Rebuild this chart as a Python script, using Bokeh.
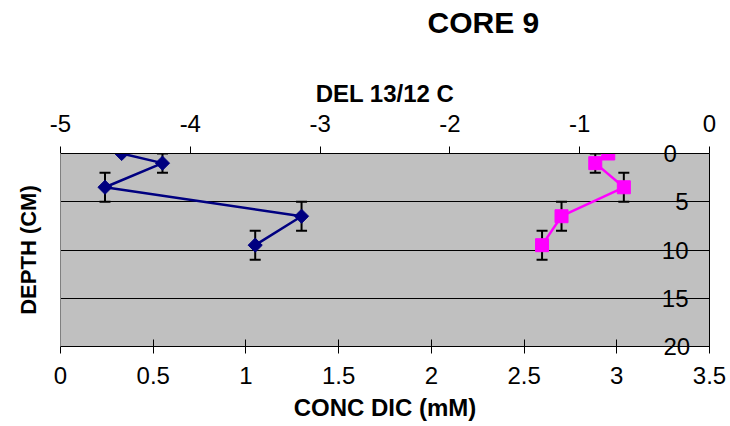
import numpy as np
from bokeh.plotting import figure
from bokeh.models import (Range1d, LinearAxis, FixedTicker, Grid, Whisker,
                          ColumnDataSource, TeeHead, Title)
from bokeh.embed import file_html
from bokeh.resources import INLINE

# ---- data ----
depth_cm = [0, 1, 3.5, 6.5, 9.5]
depth_err = [0, 1, 1.5, 1.5, 1.5]
conc_dic_mM = [0.33, 0.55, 0.24, 1.30, 1.05]
del_13_12_c = [-0.78, -0.88, -0.66, -1.14, -1.29]

conc_ticks = [0, 0.5, 1, 1.5, 2, 2.5, 3, 3.5]
conc_tick_labels = ["0", "0.5", "1", "1.5", "2", "2.5", "3", "3.5"]
del_ticks = [-5, -4, -3, -2, -1, 0]
del_tick_labels = ["-5", "-4", "-3", "-2", "-1", "0"]
depth_ticks = [0, 5, 10, 15, 20]
depth_tick_labels = ["0", "5", "10", "15", "20"]
depth_grid = [5, 10, 15]

FONT = "Liberation Sans"
NAVY = "#000080"
MAGENTA = "#FF00FF"

p = figure(frame_width=649, frame_height=193,
           x_range=Range1d(0, 3.5), y_range=Range1d(20, 0),
           x_axis_location=None, y_axis_location=None,
           output_backend="svg", toolbar_location=None,
           min_border_left=60, min_border_right=21,
           min_border_top=153, min_border_bottom=72,
           background_fill_color="#C0C0C0", border_fill_color="white",
           outline_line_color=None)
p.extra_x_ranges = {"del": Range1d(-5, 0)}
for g in p.grid:
    g.visible = False


def style(ax):
    ax.major_label_text_font = FONT
    ax.major_label_text_font_size = "24px"
    ax.major_label_text_color = "black"
    ax.axis_label_text_font = FONT
    ax.axis_label_text_font_size = "24px"
    ax.axis_label_text_font_style = "bold"
    ax.axis_label_text_color = "black"
    ax.minor_tick_line_color = None
    ax.axis_line_color = "black"
    ax.major_tick_line_color = "black"
    ax.major_tick_line_width = 1


# bottom axis: CONC DIC
xb = LinearAxis(ticker=FixedTicker(ticks=conc_ticks),
                major_label_overrides=dict(zip(conc_ticks, conc_tick_labels)),
                axis_label="CONC DIC (mM)")
style(xb)
xb.major_tick_in = 7
xb.major_tick_out = 7
xb.major_label_standoff = 13
xb.axis_label_standoff = 7
p.add_layout(xb, "below")

# top axis: DEL 13/12 C
xt = LinearAxis(x_range_name="del", ticker=FixedTicker(ticks=del_ticks),
                major_label_overrides=dict(zip(del_ticks, del_tick_labels)),
                axis_label="DEL 13/12 C")
style(xt)
xt.major_tick_in = 0
xt.major_tick_out = 7
xt.major_label_standoff = 15
xt.axis_label_standoff = 5
p.add_layout(xt, "above")

# blank spacer between the top axis and the chart title (white tick on white)
spacer_tick = [3.4]
spacer = LinearAxis(ticker=FixedTicker(ticks=spacer_tick),
                    major_label_overrides={spacer_tick[0]: ""})
style(spacer)
spacer.major_label_text_font_size = "0px"
spacer.axis_line_color = None
spacer.major_tick_line_color = "white"
spacer.major_tick_in = 0
spacer.major_tick_out = 38
spacer.major_label_standoff = 0
p.add_layout(spacer, "above")

title = Title(text="CORE 9", align="left", offset=367, standoff=0,
              text_font=FONT, text_font_size="30px", text_font_style="bold",
              text_color="black")
p.add_layout(title, "above")

# left: only the axis title and grey border
yl = LinearAxis(ticker=FixedTicker(ticks=[]), axis_label="DEPTH (CM)")
style(yl)
yl.axis_label_text_font_size = "22px"
yl.axis_line_color = "#808080"
yl.major_tick_line_color = None
yl.major_label_standoff = 0
yl.axis_label_standoff = 20
p.add_layout(yl, "left")

# depth axis at the right edge: inner labels drawn inside the plot area
inner = [t for t in depth_ticks if 0 < t < max(depth_ticks)]
edge = [t for t in depth_ticks if t not in inner]
labels = dict(zip(depth_ticks, depth_tick_labels))

yr_in = LinearAxis(fixed_location=3.5, ticker=FixedTicker(ticks=inner),
                   major_label_overrides={t: labels[t] for t in inner})
style(yr_in)
yr_in.major_tick_in = 0
yr_in.major_tick_out = 0
yr_in.major_label_standoff = 21
p.add_layout(yr_in, "left")

yr = LinearAxis(ticker=FixedTicker(ticks=edge),
                major_label_overrides={t: labels[t] for t in edge})
style(yr)
yr.major_tick_in = 0
yr.major_tick_out = 0
yr.major_label_standoff = -46
p.add_layout(yr, "right")

grid = Grid(dimension=1, ticker=FixedTicker(ticks=depth_grid),
            grid_line_color="black", grid_line_width=1)
p.add_layout(grid)


# error bars
def whisk(xs, rng=None):
    keep = [i for i, e in enumerate(depth_err) if e > 0]
    src = ColumnDataSource(dict(
        base=[xs[i] for i in keep],
        lower=[depth_cm[i] - depth_err[i] for i in keep],
        upper=[depth_cm[i] + depth_err[i] for i in keep]))
    kw = {}
    if rng:
        kw["x_range_name"] = rng
    w = Whisker(source=src, base="base", lower="lower", upper="upper",
                dimension="height", line_color="black", line_width=2,
                upper_head=TeeHead(size=11, line_width=2, line_color="black"),
                lower_head=TeeHead(size=11, line_width=2, line_color="black"),
                level="underlay", **kw)
    p.add_layout(w)


whisk(conc_dic_mM)
whisk(del_13_12_c, "del")

p.line(conc_dic_mM, depth_cm, line_color=NAVY, line_width=2.5)
p.scatter(conc_dic_mM, depth_cm, marker="square", angle=np.pi / 4, size=10,
          fill_color=NAVY, line_color=NAVY)

p.line(del_13_12_c, depth_cm, x_range_name="del", line_color=MAGENTA, line_width=2.5)
p.scatter(del_13_12_c, depth_cm, x_range_name="del", marker="square", size=13,
          fill_color=MAGENTA, line_color=MAGENTA)

open("out.html", "w").write(file_html(p, INLINE))
